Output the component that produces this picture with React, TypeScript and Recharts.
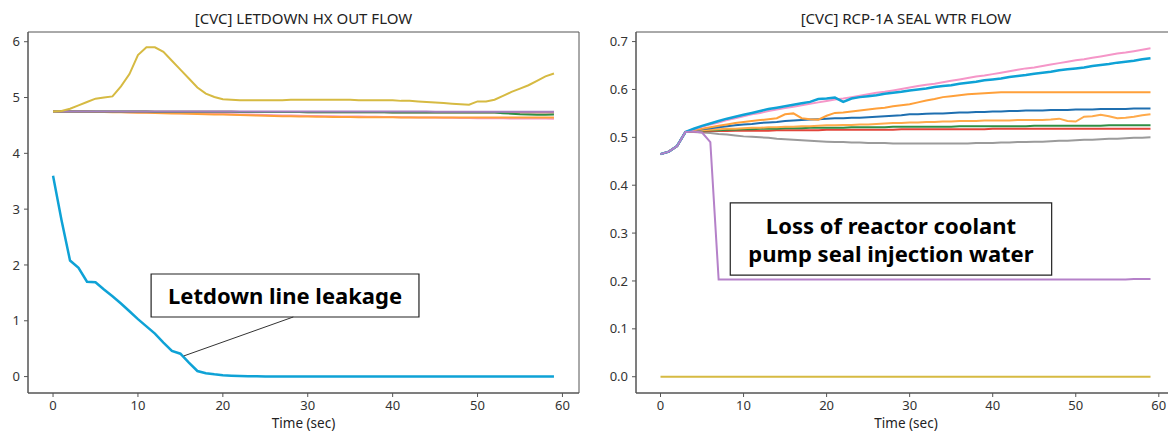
import React from "react";
import { LineChart, Line, XAxis, YAxis, ReferenceArea, ReferenceLine } from "recharts";

// ---------- shared time axis ----------
const timeSec = [
  0, 1, 2, 3, 4, 5, 6, 7, 8, 9, 10, 11, 12, 13, 14, 15, 16, 17, 18, 19,
  20, 21, 22, 23, 24, 25, 26, 27, 28, 29, 30, 31, 32, 33, 34, 35, 36, 37, 38, 39,
  40, 41, 42, 43, 44, 45, 46, 47, 48, 49, 50, 51, 52, 53, 54, 55, 56, 57, 58, 59,
];
const xTicks = [0, 10, 20, 30, 40, 50, 60];

// ---------- left chart: [CVC] LETDOWN HX OUT FLOW ----------
const leftTitle = "[CVC] LETDOWN HX OUT FLOW";
const leftYTicks = [0, 1, 2, 3, 4, 5, 6];
const ldCyan = [
  3.6, 2.8, 2.08, 1.95, 1.7, 1.69, 1.56, 1.44, 1.31, 1.17,
  1.03, 0.9, 0.77, 0.61, 0.46, 0.41, 0.25, 0.1, 0.06, 0.04,
  0.025, 0.016, 0.01, 0.007, 0.004, 0.002, 0.001, 0, 0, 0,
  0, 0, 0, 0, 0, 0, 0, 0, 0, 0,
  0, 0, 0, 0, 0, 0, 0, 0, 0, 0,
  0, 0, 0, 0, 0, 0, 0, 0, 0, 0,
];
const ldYellow = [
  4.75, 4.76, 4.8, 4.86, 4.92, 4.98, 5.0, 5.02, 5.2, 5.42,
  5.76, 5.9, 5.9, 5.82, 5.66, 5.5, 5.34, 5.18, 5.07, 5.01,
  4.97, 4.96, 4.95, 4.95, 4.95, 4.95, 4.95, 4.95, 4.96, 4.96,
  4.96, 4.96, 4.96, 4.96, 4.96, 4.96, 4.95, 4.95, 4.95, 4.95,
  4.95, 4.94, 4.94, 4.93, 4.92, 4.91, 4.9, 4.89, 4.88, 4.87,
  4.93, 4.93, 4.96, 5.03, 5.1, 5.16, 5.22, 5.3, 5.38, 5.43,
];
const ldPink = [
  4.75, 4.75, 4.75, 4.75, 4.748, 4.746, 4.744, 4.742, 4.74, 4.738,
  4.735, 4.732, 4.73, 4.727, 4.724, 4.72, 4.717, 4.714, 4.71, 4.707,
  4.704, 4.7, 4.697, 4.694, 4.69, 4.687, 4.684, 4.68, 4.677, 4.674,
  4.67, 4.668, 4.666, 4.664, 4.662, 4.66, 4.658, 4.656, 4.654, 4.652,
  4.65, 4.648, 4.646, 4.644, 4.642, 4.64, 4.638, 4.636, 4.634, 4.632,
  4.63, 4.629, 4.628, 4.627, 4.626, 4.625, 4.624, 4.623, 4.622, 4.62,
];
const ldOrange = [
  4.75, 4.75, 4.748, 4.746, 4.744, 4.742, 4.74, 4.737, 4.734, 4.731,
  4.728, 4.725, 4.722, 4.719, 4.716, 4.713, 4.71, 4.706, 4.702, 4.698,
  4.694, 4.69, 4.686, 4.682, 4.678, 4.674, 4.67, 4.666, 4.663, 4.66,
  4.658, 4.656, 4.654, 4.652, 4.65, 4.649, 4.648, 4.647, 4.646, 4.645,
  4.645, 4.644, 4.644, 4.643, 4.643, 4.642, 4.642, 4.641, 4.641, 4.64,
  4.64, 4.64, 4.64, 4.64, 4.64, 4.64, 4.64, 4.64, 4.64, 4.64,
];
const ldRed = [
  4.75, 4.75, 4.75, 4.75, 4.75, 4.75, 4.75, 4.75, 4.75, 4.75,
  4.748, 4.748, 4.747, 4.747, 4.746, 4.746, 4.745, 4.745, 4.744, 4.744,
  4.743, 4.743, 4.742, 4.742, 4.741, 4.741, 4.74, 4.74, 4.739, 4.739,
  4.738, 4.738, 4.737, 4.737, 4.736, 4.736, 4.735, 4.735, 4.734, 4.734,
  4.733, 4.733, 4.732, 4.732, 4.731, 4.731, 4.73, 4.73, 4.73, 4.73,
  4.73, 4.73, 4.73, 4.73, 4.73, 4.73, 4.73, 4.73, 4.73, 4.73,
];
const ldGreen = [
  4.75, 4.75, 4.75, 4.75, 4.75, 4.75, 4.75, 4.75, 4.75, 4.75,
  4.748, 4.748, 4.747, 4.747, 4.746, 4.746, 4.745, 4.745, 4.744, 4.744,
  4.743, 4.743, 4.742, 4.742, 4.741, 4.741, 4.74, 4.74, 4.739, 4.739,
  4.738, 4.738, 4.737, 4.737, 4.736, 4.736, 4.735, 4.735, 4.734, 4.734,
  4.733, 4.733, 4.732, 4.732, 4.731, 4.731, 4.73, 4.73, 4.73, 4.73,
  4.73, 4.73, 4.73, 4.72, 4.71, 4.7, 4.695, 4.69, 4.69, 4.695,
];
const ldPurple = [
  4.75, 4.75, 4.75, 4.75, 4.75, 4.75, 4.75, 4.75, 4.75, 4.75,
  4.75, 4.75, 4.75, 4.75, 4.75, 4.75, 4.75, 4.75, 4.75, 4.75,
  4.75, 4.75, 4.75, 4.75, 4.75, 4.75, 4.75, 4.75, 4.75, 4.75,
  4.748, 4.748, 4.748, 4.748, 4.748, 4.748, 4.748, 4.748, 4.748, 4.748,
  4.748, 4.748, 4.748, 4.748, 4.748, 4.745, 4.745, 4.745, 4.745, 4.745,
  4.745, 4.745, 4.745, 4.745, 4.745, 4.745, 4.745, 4.745, 4.745, 4.745,
];
const leftNote = "Letdown line leakage";

// ---------- right chart: [CVC] RCP-1A SEAL WTR FLOW ----------
const rightTitle = "[CVC] RCP-1A SEAL WTR FLOW";
const rightYTicks = [0, 0.1, 0.2, 0.3, 0.4, 0.5, 0.6, 0.7];
const rcPink = [
  0.465, 0.47, 0.482, 0.511, 0.517, 0.522, 0.527, 0.531, 0.536, 0.54,
  0.544, 0.548, 0.551, 0.555, 0.558, 0.561, 0.564, 0.567, 0.57, 0.573,
  0.576, 0.579, 0.581, 0.584, 0.587, 0.59, 0.593, 0.595, 0.598, 0.601,
  0.604, 0.607, 0.61, 0.612, 0.615, 0.618, 0.621, 0.624, 0.627, 0.629,
  0.632, 0.635, 0.638, 0.641, 0.644, 0.646, 0.649, 0.652, 0.655, 0.658,
  0.661, 0.663, 0.666, 0.669, 0.672, 0.675, 0.677, 0.68, 0.683, 0.686,
];
const rcCyan = [
  0.465, 0.47, 0.482, 0.511, 0.518, 0.524, 0.529, 0.534, 0.539, 0.543,
  0.547, 0.551, 0.555, 0.559, 0.562, 0.565, 0.568, 0.571, 0.574, 0.58,
  0.581, 0.583, 0.574, 0.581, 0.584, 0.586, 0.588, 0.591, 0.593, 0.595,
  0.598, 0.6, 0.602, 0.605, 0.607, 0.609, 0.612, 0.614, 0.616, 0.619,
  0.621, 0.623, 0.626, 0.628, 0.63, 0.633, 0.635, 0.637, 0.64, 0.642,
  0.644, 0.646, 0.649, 0.651, 0.653, 0.656, 0.658, 0.66, 0.663, 0.665,
];
const rcOrange = [
  0.465, 0.47, 0.482, 0.511, 0.515, 0.518, 0.521, 0.524, 0.527, 0.53,
  0.532, 0.534, 0.536, 0.538, 0.54, 0.548, 0.55, 0.54, 0.538, 0.537,
  0.545, 0.551, 0.552, 0.554, 0.556, 0.558, 0.56, 0.562, 0.565, 0.567,
  0.569, 0.573, 0.577, 0.58, 0.584, 0.586, 0.588, 0.59, 0.591, 0.592,
  0.593, 0.594, 0.594, 0.594, 0.594, 0.594, 0.594, 0.594, 0.594, 0.594,
  0.594, 0.594, 0.594, 0.594, 0.594, 0.594, 0.594, 0.594, 0.594, 0.594,
];
const rcBlue = [
  0.465, 0.47, 0.482, 0.511, 0.514, 0.517, 0.519, 0.521, 0.523, 0.525,
  0.527, 0.528, 0.53, 0.531, 0.532, 0.534, 0.535, 0.536, 0.537, 0.538,
  0.539, 0.54, 0.54, 0.541, 0.541, 0.542, 0.543, 0.544, 0.545, 0.546,
  0.548, 0.548, 0.549, 0.55, 0.55, 0.551, 0.552, 0.552, 0.553, 0.553,
  0.554, 0.554, 0.555, 0.555, 0.556, 0.556, 0.556, 0.557, 0.557, 0.557,
  0.558, 0.558, 0.558, 0.559, 0.559, 0.559, 0.559, 0.56, 0.56, 0.56,
];
const rcOrange2 = [
  0.465, 0.47, 0.482, 0.511, 0.513, 0.515, 0.516, 0.517, 0.518, 0.518,
  0.519, 0.52, 0.52, 0.521, 0.521, 0.522, 0.522, 0.523, 0.523, 0.524,
  0.525, 0.525, 0.526, 0.526, 0.527, 0.527, 0.528, 0.529, 0.53, 0.53,
  0.531, 0.531, 0.532, 0.532, 0.533, 0.533, 0.534, 0.534, 0.534, 0.535,
  0.535, 0.535, 0.535, 0.536, 0.536, 0.536, 0.536, 0.537, 0.539, 0.534,
  0.533, 0.543, 0.544, 0.547, 0.544, 0.54, 0.541, 0.543, 0.546, 0.548,
];
const rcGreen = [
  0.465, 0.47, 0.482, 0.511, 0.513, 0.514, 0.515, 0.515, 0.516, 0.516,
  0.517, 0.517, 0.518, 0.518, 0.518, 0.519, 0.519, 0.519, 0.52, 0.52,
  0.52, 0.52, 0.52, 0.521, 0.521, 0.521, 0.521, 0.521, 0.522, 0.522,
  0.522, 0.522, 0.522, 0.522, 0.522, 0.522, 0.523, 0.523, 0.523, 0.523,
  0.523, 0.523, 0.523, 0.523, 0.523, 0.524, 0.524, 0.524, 0.524, 0.524,
  0.524, 0.524, 0.524, 0.524, 0.525, 0.525, 0.525, 0.525, 0.525, 0.525,
];
const rcRed = [
  0.465, 0.47, 0.482, 0.511, 0.512, 0.512, 0.513, 0.513, 0.513, 0.514,
  0.514, 0.514, 0.514, 0.514, 0.515, 0.515, 0.515, 0.515, 0.515, 0.515,
  0.516, 0.516, 0.516, 0.516, 0.516, 0.516, 0.516, 0.516, 0.516, 0.517,
  0.517, 0.517, 0.517, 0.517, 0.517, 0.517, 0.517, 0.517, 0.517, 0.517,
  0.518, 0.518, 0.518, 0.518, 0.518, 0.518, 0.518, 0.518, 0.518, 0.518,
  0.518, 0.518, 0.518, 0.518, 0.518, 0.518, 0.518, 0.518, 0.518, 0.518,
];
const rcGray = [
  0.465, 0.47, 0.482, 0.511, 0.511, 0.51, 0.509, 0.507, 0.506, 0.504,
  0.502, 0.501, 0.5, 0.499, 0.497, 0.496, 0.495, 0.494, 0.493, 0.492,
  0.491, 0.49, 0.49, 0.489, 0.489, 0.488, 0.488, 0.488, 0.487, 0.487,
  0.487, 0.487, 0.487, 0.487, 0.487, 0.487, 0.487, 0.487, 0.488, 0.488,
  0.488, 0.489, 0.489, 0.49, 0.49, 0.491, 0.491, 0.492, 0.493, 0.493,
  0.494, 0.495, 0.495, 0.496, 0.497, 0.497, 0.498, 0.499, 0.499, 0.5,
];
const rcPurple = [
  0.465, 0.47, 0.482, 0.511, 0.512, 0.51, 0.49, 0.203, 0.203, 0.203,
  0.203, 0.203, 0.203, 0.203, 0.203, 0.203, 0.203, 0.203, 0.203, 0.203,
  0.203, 0.203, 0.203, 0.203, 0.203, 0.203, 0.203, 0.203, 0.203, 0.203,
  0.203, 0.203, 0.203, 0.203, 0.203, 0.203, 0.203, 0.203, 0.203, 0.203,
  0.203, 0.203, 0.203, 0.203, 0.203, 0.203, 0.203, 0.203, 0.203, 0.203,
  0.203, 0.203, 0.203, 0.203, 0.203, 0.203, 0.203, 0.204, 0.204, 0.204,
];
const rcYellow = [
  0, 0, 0, 0, 0, 0, 0, 0, 0, 0,
  0, 0, 0, 0, 0, 0, 0, 0, 0, 0,
  0, 0, 0, 0, 0, 0, 0, 0, 0, 0,
  0, 0, 0, 0, 0, 0, 0, 0, 0, 0,
  0, 0, 0, 0, 0, 0, 0, 0, 0, 0,
  0, 0, 0, 0, 0, 0, 0, 0, 0, 0,
];
const rightNoteLines = ["Loss of reactor coolant", "pump seal injection water"];

const xLabel = "Time (sec)";

// ---------- table build ----------
const leftRows = timeSec.map((t, i) => ({
  t,
  pink: ldPink[i],
  orange: ldOrange[i],
  red: ldRed[i],
  green: ldGreen[i],
  purple: ldPurple[i],
  yellow: ldYellow[i],
  cyan: ldCyan[i],
}));
const rightRows = timeSec.map((t, i) => ({
  t,
  gray: rcGray[i],
  red: rcRed[i],
  green: rcGreen[i],
  orange2: rcOrange2[i],
  blue: rcBlue[i],
  orange: rcOrange[i],
  pink: rcPink[i],
  cyan: rcCyan[i],
  purple: rcPurple[i],
  yellow: rcYellow[i],
}));

const FONT = "'Noto Sans', 'DejaVu Sans', sans-serif";
const AXIS = "#555";
const TICK = { fill: "#333", fontSize: 13, fontFamily: FONT };

const C = {
  cyan: "#0ea2d6",
  yellow: "#d6ba42",
  pink: "#f596c8",
  orange: "#ffa03a",
  orange2: "#ffaa4a",
  blue: "#1f6fb0",
  green: "#2f8f45",
  red: "#e2453a",
  gray: "#9b9b9b",
  purple: "#b581c9",
  lpurple: "#a47fc0",
};

const NoteLabel = (lines: string[]) => (props: any) => {
  const vb = props.viewBox || {};
  const cx = vb.x + vb.width / 2;
  const cy = vb.y + vb.height / 2;
  const lh = 28;
  const start = cy - ((lines.length - 1) * lh) / 2;
  return (
    <text
      x={cx}
      y={start}
      textAnchor="middle"
      dominantBaseline="central"
      fontFamily={FONT}
      fontWeight={700}
      fontSize={22}
      fill="#000"
    >
      {lines.map((l, i) => (
        <tspan key={i} x={cx} y={start + i * lh} dominantBaseline="central">
          {l}
        </tspan>
      ))}
    </text>
  );
};

const lineProps = {
  type: "linear" as const,
  dot: false,
  isAnimationActive: false,
  activeDot: false,
};

const titleStyle = (left: number, width: number): React.CSSProperties => ({
  position: "absolute",
  left,
  width,
  top: 8,
  textAlign: "center",
  fontFamily: FONT,
  fontSize: 15,
  lineHeight: "20px",
  color: "#222",
});
const xlabStyle = (left: number, width: number): React.CSSProperties => ({
  position: "absolute",
  left,
  width,
  top: 416,
  textAlign: "center",
  fontFamily: FONT,
  fontSize: 13.5,
  lineHeight: "14px",
  color: "#222",
});

const L_DOM: [number, number] = [-0.294, 6.174];
const R_DOM: [number, number] = [-0.034, 0.72];
const X_DOM: [number, number] = [-2.95, 61.95];

export default function App() {
  return (
    <div
      style={{
        position: "absolute",
        left: 0,
        top: 0,
        width: 1168,
        height: 432,
        overflow: "hidden",
        background: "#fff",
      }}
    >
      <div style={titleStyle(28, 551)}>{leftTitle}</div>
      <div style={titleStyle(636, 540)}>{rightTitle}</div>
      <div style={xlabStyle(28, 551)}>{xLabel}</div>
      <div style={xlabStyle(636, 540)}>{xLabel}</div>

      <div style={{ position: "absolute", left: 0, top: 0 }}>
        <LineChart width={600} height={432} data={leftRows} margin={{ top: 32, right: 21, bottom: 0, left: 0 }}>
          <XAxis
            dataKey="t"
            type="number"
            domain={X_DOM}
            ticks={xTicks}
            allowDataOverflow
            height={39}
            tickSize={4}
            tickMargin={4}
            tick={TICK}
            stroke={AXIS}
            interval={0}
          />
          <YAxis
            type="number"
            domain={L_DOM}
            ticks={leftYTicks}
            allowDataOverflow
            width={28}
            tickSize={4}
            tickMargin={4}
            tick={TICK}
            stroke={AXIS}
            interval={0}
          />
          <ReferenceArea x1={X_DOM[0]} x2={X_DOM[1]} y1={L_DOM[0]} y2={L_DOM[1]} fill="none" stroke={AXIS} strokeWidth={1} ifOverflow="visible" />
          <Line {...lineProps} dataKey="pink" stroke={C.pink} strokeWidth={2} />
          <Line {...lineProps} dataKey="orange" stroke={C.orange} strokeWidth={2} />
          <Line {...lineProps} dataKey="red" stroke={C.red} strokeWidth={2} strokeOpacity={0.7} />
          <Line {...lineProps} dataKey="green" stroke={C.green} strokeWidth={2} />
          <Line {...lineProps} dataKey="purple" stroke={C.lpurple} strokeWidth={2} />
          <Line {...lineProps} dataKey="yellow" stroke={C.yellow} strokeWidth={2} />
          <Line {...lineProps} dataKey="cyan" stroke={C.cyan} strokeWidth={2.5} />
          <ReferenceLine
            segment={[{ x: 15.4, y: 0.37 }, { x: 28.3, y: 1.068 }]}
            stroke="#333"
            strokeWidth={1}
            ifOverflow="visible"
          />
          <ReferenceArea
            x1={11.55}
            x2={43.1}
            y1={1.068}
            y2={1.838}
            fill="#fff"
            fillOpacity={1}
            stroke="#222"
            strokeWidth={1.2}
            ifOverflow="visible"
            label={{ content: NoteLabel([leftNote]) } as any}
          />
        </LineChart>
      </div>

      <div style={{ position: "absolute", left: 600, top: 0 }}>
        <LineChart width={576} height={432} data={rightRows} margin={{ top: 32, right: 1, bottom: 0, left: 0 }}>
          <XAxis
            dataKey="t"
            type="number"
            domain={X_DOM}
            ticks={xTicks}
            allowDataOverflow
            height={39}
            tickSize={4}
            tickMargin={4}
            tick={TICK}
            stroke={AXIS}
            interval={0}
          />
          <YAxis
            type="number"
            domain={R_DOM}
            ticks={rightYTicks}
            allowDataOverflow
            width={36}
            tickSize={4}
            tickMargin={4}
            tick={TICK}
            stroke={AXIS}
            interval={0}
            tickFormatter={(v: number) => v.toFixed(1)}
          />
          <ReferenceArea x1={X_DOM[0]} x2={X_DOM[1]} y1={R_DOM[0]} y2={R_DOM[1]} fill="none" stroke={AXIS} strokeWidth={1} ifOverflow="visible" />
          <Line {...lineProps} dataKey="gray" stroke={C.gray} strokeWidth={2} />
          <Line {...lineProps} dataKey="red" stroke={C.red} strokeWidth={2} />
          <Line {...lineProps} dataKey="green" stroke={C.green} strokeWidth={2} />
          <Line {...lineProps} dataKey="orange2" stroke={C.orange2} strokeWidth={2} />
          <Line {...lineProps} dataKey="blue" stroke={C.blue} strokeWidth={2} />
          <Line {...lineProps} dataKey="orange" stroke={C.orange} strokeWidth={2} />
          <Line {...lineProps} dataKey="pink" stroke={C.pink} strokeWidth={2} />
          <Line {...lineProps} dataKey="cyan" stroke={C.cyan} strokeWidth={2.5} />
          <Line {...lineProps} dataKey="yellow" stroke={C.yellow} strokeWidth={2} />
          <Line {...lineProps} dataKey="purple" stroke={C.purple} strokeWidth={2} />
          <ReferenceArea
            x1={8.4}
            x2={47.1}
            y1={0.212}
            y2={0.363}
            fill="#fff"
            fillOpacity={1}
            stroke="#222"
            strokeWidth={1.2}
            ifOverflow="visible"
            label={{ content: NoteLabel(rightNoteLines) } as any}
          />
        </LineChart>
      </div>
    </div>
  );
}
